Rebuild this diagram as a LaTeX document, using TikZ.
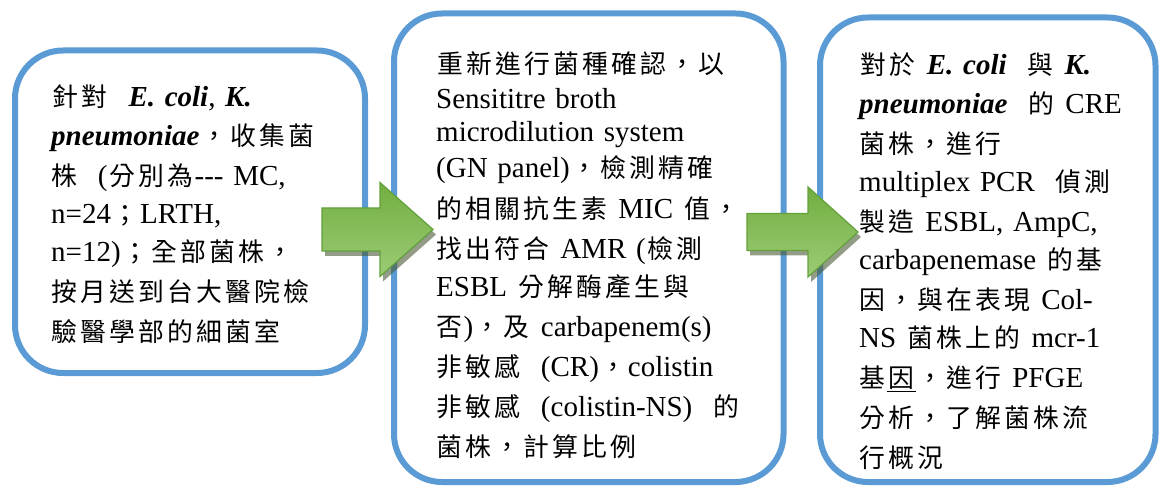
\documentclass[tikz,border=0pt]{standalone}
\usepackage{fontspec}
\setmainfont{Liberation Serif}
\newfontfamily\cjkfont[Scale=0.89]{Noto Sans CJK TC}

% CJK runs: each ideograph set on a fixed pitch
\def\zhstop{}
\def\zhloop#1{\ifx#1\zhstop\else\kern1.6pt#1\kern1.6pt\expandafter\zhloop\fi}
\newcommand\zh[1]{{\cjkfont\zhloop#1\zhstop}}
\newcommand\bi[1]{\textbf{\textit{#1}}}
\newcommand\dashes{\mbox{-{}-{}-}}

\definecolor{panelblue}{HTML}{5B9BD5}
\definecolor{arrowtop}{HTML}{72AE40}
\definecolor{arrowbot}{HTML}{9CCB76}
\definecolor{arrowedge}{HTML}{62A03A}
\definecolor{arrowshadow}{HTML}{4A5A38}

% block arrow: shaft left, head base, tip, centre y, shaft half height, head half height
\newcommand\arrowoutline[6]{(#1,#4-#5) -- (#2,#4-#5) -- (#2,#4-#6) -- (#3,#4) -- (#2,#4+#6) -- (#2,#4+#5) -- (#1,#4+#5) -- cycle}

\begin{document}
\begin{tikzpicture}[x=1pt,y=-1pt,
  panel/.style={draw=panelblue, line width=6pt, rounded corners=48pt, fill=white},
  txt/.style={inner sep=0pt, anchor=base west, align=left, text width=420pt,
              font=\fontsize{29}{38.3}\selectfont},
  blockshadow/.style={fill=arrowshadow, opacity=0.6, shift={(3,5)}},
  blockarrow/.style={top color=arrowtop, bottom color=arrowbot, draw=arrowedge, line width=1.2pt, line join=miter}]

\useasboundingbox (0,0) rectangle (1159,486);

% the three panels
\node[panel, minimum width=350pt, minimum height=322.5pt] (b1) at (190,211.75) {};
\node[panel, minimum width=389.5pt, minimum height=468.5pt] (b2) at (588.75,247.75) {};
\node[panel, minimum width=335.5pt, minimum height=464.5pt] (b3) at (987.75,249.75) {};

% panel texts
\node[txt] (t1) at (51,107) {%
\zh{針對}~~\bi{E. coli}, \bi{K.}\\
\bi{pneumoniae}\zh{，收集菌}\\
\zh{株}~~(\zh{分別為}\dashes{} MC,\\
n=24\zh{；}LRTH,\\
n=12)\zh{；全部菌株，}\\
\zh{按月送到台大醫院檢}\\
\zh{驗醫學部的細菌室}};

\node[txt] (t2) at (436,74) {%
\zh{重新進行菌種確認，以}\\[-3.3pt]
Sensititre broth\\[-5.3pt]
microdilution system\\[-2.3pt]
(GN panel)\zh{，檢測精確}\\[0.7pt]
\zh{的相關抗生素}~MIC~\zh{值，}\\
\zh{找出符合}~AMR (\zh{檢測}\\
ESBL~\zh{分解酶產生與}\\
\zh{否})\zh{，及}~carbapenem(s)\\
\zh{非敏感}~~(CR)\zh{，}colistin\\
\zh{非敏感}~~(colistin-NS)~~\zh{的}\\
\zh{菌株，計算比例}};

\node[txt] (t3) at (859,75) {%
\zh{對於}~\bi{E. coli}~~\zh{與}~\bi{K.}\\
\bi{pneumoniae}~~\zh{的}~CRE\\
\zh{菌株，進行}\\
multiplex PCR~~\zh{偵測}\\
\zh{製造}~ESBL, AmpC,\\
carbapenemase~\zh{的基}\\
\zh{因，與在表現}~Col-\\
NS~\zh{菌株上的}~mcr-1\\
\zh{基}\underline{\zh{因}}\zh{，進行}~PFGE\\
\zh{分析，了解菌株流}\\
\zh{行概況}};

% block arrows between the panels
\fill[blockshadow] \arrowoutline{322}{380}{433}{229.5}{21.5}{47};
\shade[blockarrow] \arrowoutline{322}{380}{433}{229.5}{21.5}{47};
\fill[blockshadow] \arrowoutline{747}{808}{858}{232}{18.5}{45};
\shade[blockarrow] \arrowoutline{747}{808}{858}{232}{18.5}{45};
\end{tikzpicture}
\end{document}
